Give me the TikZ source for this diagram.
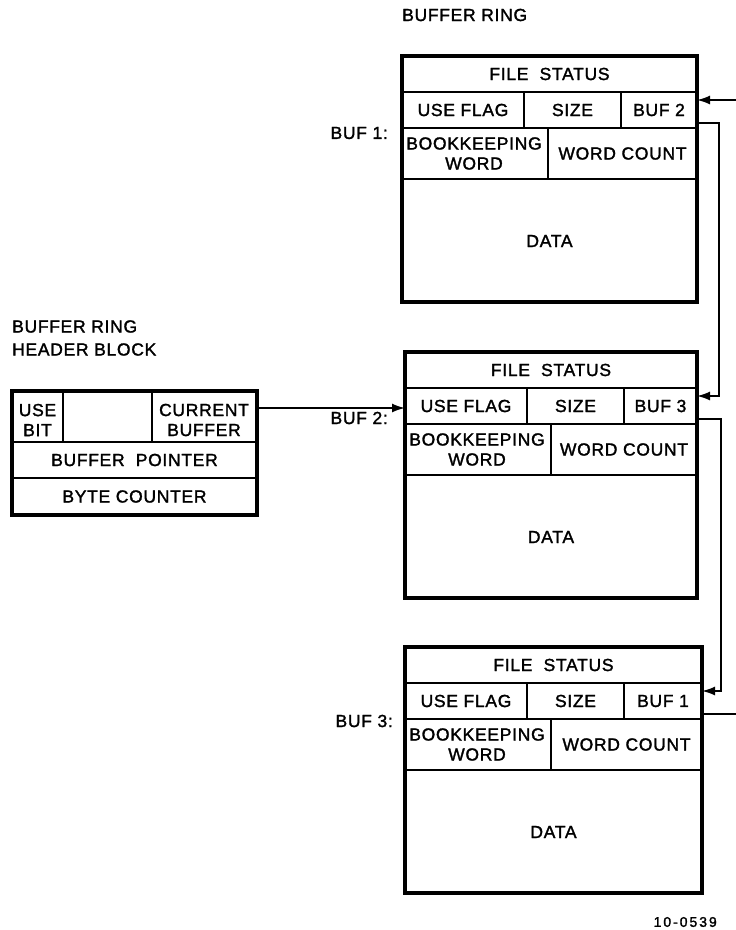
\documentclass[tikz,border=0pt]{standalone}
\usepackage{fontspec}
\setmainfont[LetterSpace=4, FakeBold=1.6]{Liberation Sans}
\usetikzlibrary{arrows.meta}
\tikzset{
  outer/.style={line width=3.2pt},
  inner/.style={line width=2pt},
  conn/.style={line width=1.8pt},
  arr/.style={-{Latex[length=13pt,width=9pt]}},
  txt/.style={font=\fontsize{17.5}{20}\selectfont, inner sep=0pt, align=center},
  lbl/.style={font=\fontsize{17.5}{23}\selectfont, inner sep=0pt, align=left},
  small/.style={font=\fontsize{14}{16}\selectfont\addfontfeatures{LetterSpace=14}, inner sep=0pt},
}
\newcommand\BufBox[5]{% name, left, top, right, next buffer number
  \draw[outer] (#2,#3) rectangle (#4,#3+246);
  \draw[inner] (#2,#3+36) -- (#4,#3+36)
               (#2,#3+72) -- (#4,#3+72)
               (#2,#3+123) -- (#4,#3+123)
               (#2+122,#3+36) -- (#2+122,#3+72)
               (#2+219,#3+36) -- (#2+219,#3+72)
               (#2+146,#3+72) -- (#2+146,#3+123);
  \node[txt] (#1fs) at ({(#2+#4)/2},#3+18) {FILE\ \ STATUS};
  \node[txt] (#1uf) at (#2+61,#3+54) {USE FLAG};
  \node[txt] (#1sz) at (#2+170.5,#3+54) {SIZE};
  \node[txt] (#1nx) at ({(#2+219+#4)/2},#3+54) {BUF #5};
  \node[txt] (#1bk) at (#2+72,#3+97.5) {BOOKKEEPING\\WORD};
  \node[txt] (#1wc) at ({(#2+146+#4)/2},#3+97.5) {WORD COUNT};
  \node[txt] (#1dt) at ({(#2+#4)/2},#3+185) {DATA};
  \coordinate (#1in) at (#4,#3+44);
  \coordinate (#1out) at (#4,#3+67);
}
\begin{document}
\begin{tikzpicture}[x=1pt,y=-1pt]
\useasboundingbox (0,0) rectangle (736,930);

% titles and labels
\node[txt, anchor=west] (title) at (402,15) {BUFFER RING};
\node[lbl, anchor=west] (hdrtitle) at (12,338) {BUFFER RING\\HEADER BLOCK};
\node[txt, anchor=east] (lab1) at (388,133) {BUF 1:};
\node[txt, anchor=east] (lab2) at (388,418) {BUF 2:};
\node[txt, anchor=east] (lab3) at (393,721) {BUF 3:};
\node[small, anchor=east] (fig) at (717,922) {10-0539};

% buffer boxes
\BufBox{b1}{402}{56}{697}{2}
\BufBox{b2}{405}{352}{697}{3}
\BufBox{b3}{405}{647}{702}{1}

% header block
\draw[outer] (12,391) rectangle (257,515);
\draw[inner] (12,442) -- (257,442) (12,478) -- (257,478)
             (63,391) -- (63,442) (152,391) -- (152,442);
\node[txt] (usebit) at (37.5,420) {USE\\BIT};
\node[txt] (curbuf) at (204,420) {CURRENT\\BUFFER};
\node[txt] (bufptr) at (134.5,460) {BUFFER\ \ POINTER};
\node[txt] (bytecnt) at (134.5,496.5) {BYTE COUNTER};
\coordinate (hdrout) at (257,408);
\coordinate (b2left) at (405,408);

% connector coordinates
\coordinate (rim) at (737,0);
\coordinate (v1) at (719,0);
\coordinate (v2) at (721,0);
\coordinate (edgein) at (b1in -| rim);
\coordinate (edgeout) at (b3out -| rim);

% connectors
\draw[conn, arr] (edgein) -- (b1in);
\draw[conn, arr] (b1out) -- (b1out -| v1) -- (v1 |- b2in) -- (b2in);
\draw[conn, arr] (b2out) -- (b2out -| v2) -- (v2 |- b3in) -- (b3in);
\draw[conn] (b3out) -- (edgeout);
\draw[conn, arr] (hdrout) -- (b2left);
\end{tikzpicture}
\end{document}
